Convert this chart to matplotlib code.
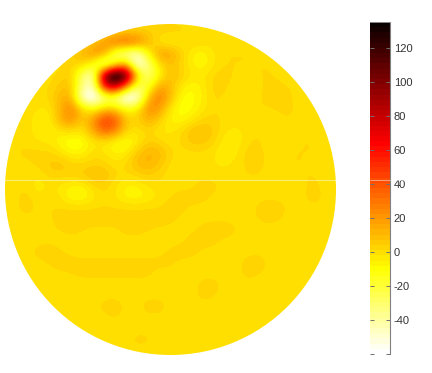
import matplotlib
import numpy as np
import matplotlib.pyplot as plt
from matplotlib.lines import Line2D
from matplotlib.patches import Circle

matplotlib.use('Agg')

# field, 11 px apart, columns left to right, rows top to bottom
field = [
    [0, 0, 0, 0, 0, 0, 0, 0, 0, 0, 0, 0, 0, 0, 0, 0, 0, 0, 0, 0, 0, 0, 0, 0, 0, 0, 0, 0, 0, 0, 0],
    [0, 0, 0, 0, 0, 0, 0, 0, 0, 0, 0, 3, 4, 4, 3, 3, 2, 0, 0, 0, 0, 0, 0, 0, 0, 0, 0, 0, 0, 0, 0],
    [0, 0, 0, 0, 0, 0, 0, 0, 6, 18, 34, 38, 30, 10, -3, -6, -3, 2, 0, 0, 0, 0, 0, 0, 0, 0, 0, 0, 0, 0, 0],
    [0, 0, 0, 0, 0, 2, 4, 10, 22, 20, -30, -45, -50, -8, 18, 16, 4, -6, -8, -2, 1, 1, 1, 0, 0, 0, 0, 0, 0, 0, 0],
    [0, 0, 0, 0, 0, 0, 2, 3, -12, -50, -15, 15, -60, -35, 0, 8, 2, -6, -8, -2, 1, 1, 1, 1, 1, 0, 0, 0, 0, 0, 0],
    [0, 0, 0, 0, 0, 1, 6, -30, -50, 100, 160, 125, 5, -35, -10, 10, 4, -2, -3, 2, 3, 0, -1, 1, 1, 1, 0, 0, 0, 0, 0],
    [0, 0, 0, 0, 0, 6, 8, -35, -50, 65, 85, 25, -30, -20, 18, 10, -4, -9, -4, 3, 2, -2, -1, 1, 1, 1, 1, 0, 0, 0, 0],
    [0, 0, 0, 0, 1, 10, 14, -50, -70, -40, -35, -70, -60, 10, 30, 10, -10, -10, -5, 2, 0, -2, 0, 1, 1, 2, 1, 0, 0, 0, 0],
    [0, 0, 0, -2, -3, 10, 28, 2, -12, 4, 2, -12, -5, 24, 20, -4, -12, -9, -3, 1, 0, -2, 0, 1, 1, 1, 1, 1, 0, 0, 0],
    [0, 0, 0, -5, -6, 12, 24, 4, 20, 48, 42, 6, 2, 14, 4, -7, -8, -4, 2, 2, 0, -1, 0, 0, 0, 1, 1, 0, 0, 0, 0],
    [0, 0, 0, -5, -6, -2, 0, -3, 16, 38, 28, 2, -2, 2, -3, -3, 0, 8, 9, 4, -2, -3, -1, 1, -2, -1, 1, 1, 0, 0, 0],
    [0, 0, 0, -2, -3, -8, -13, -12, -4, -3, -10, -12, -5, 4, 2, -2, 2, 6, 6, 2, -5, -5, 0, 2, -2, -2, 0, 1, 1, 0, 0],
    [0, 1, 2, 2, 2, -2, -8, -7, 0, -2, -6, -6, 6, 12, 10, 2, -1, 0, 0, -2, -6, -3, 3, 3, -1, -1, 1, 1, 1, 0, 0],
    [0, 0, 0, 2, 5, 7, 3, 1, 3, 2, -2, 2, 9, 12, 7, 0, -2, -1, -1, -2, -3, -1, 2, 2, 0, 0, 1, 1, 0, 0, 0],
    [0, 0, 0, -2, 3, 3, 3, 6, 9, 9, 2, 0, 3, 5, 2, -1, -2, -1, 0, -1, -1, 0, 1, 1, 0, 0, 0, 1, 1, 0, 0],
    [0, 0, 0, -5, -2, -3, -6, -7, 1, 3, -2, -6, -6, -2, 0, 0, 0, 0, 3, 2, 0, 0, 0, 0, 0, 0, 0, 0, 2, 0, 0],
    [0, 0, 3, -2, 1, -2, -9, -10, -4, 1, -2, -7, -8, -5, -2, 1, 2, 3, 2, 0, 0, 0, 0, 0, 0, 0, 0, 0, 3, 0, 0],
    [0, 0, 3, 0, 1, 1, 1, 1, 1, 1, 1, 1, 1, 1, 1, 3, 2, 0, 0, 0, 0, 0, 0, 1.5, 3, 2, 0, 0, 0, 0, 0],
    [0, 0, 0, 0, 0, 3, 3, 3, 3, 3, 3, 3, 3, 3, 3, 2, 0, 0, 0, 0, 0, 0, 0, 1, 2, 1, 0, 0, 0, 0, 0],
    [0, 0, 0, 0, 0, 1, 2, 1, 0, 0, 0, 2, 2, 1, 0, 0, 0, 0, 2, 3, 3, 1, 0, 0, 0, 0, 0, 0, 0, 0, 0],
    [0, 0, 0, 0, 0, 0, 0, 0, 0, 0, 0, 0, 0, 0, 0, 0, 0, 2.5, 3, 1.5, 0, 0, 0, 0, 0, 0, 0, 0, 0, 0, 0],
    [0, 0, 0, 2, 3, 1, 0, 0, 0, 0, 0, 0, 0, 0, 0, 1.5, 2.5, 2, 0, 0, 0, 0, 0, 0, 0, 0, 0, 0, 0, 0, 0],
    [0, 0, 0, 0, 1, 3, 2, 1.6, 1.6, 1.6, 1.6, 1.6, 1.6, 1.6, 1.8, 1.8, 0, 0, 0, 0, 0, 0, 2, 3, 0, 0, 0, 0, 0, 0, 0],
    [0, 0, 0, 0, 0, 0, 1, 1.6, 1.6, 1.6, 1.6, 1.6, 1.6, 1.6, 0, 0, 0, 0, 0, 0, 0, 0, 2, 1, 0, 0, 0, 0, 0, 0, 0],
    [0, 0, 0, 0, 0, 0, 0, 0, 0, 0, 0, 0, 0, 0, 0, 0, 0, 0, 2, 2, 0, 0, 0, 0, 0, 0, 0, 0, 0, 0, 0],
    [0, 0, 0, 0, 0, 1.5, 0, 0, 0, 0, 0, 0, 0, 0, 0, 0, 0, 0, 2, 1, 0, 0, 0, 0, 0, 0, 0, 0, 0, 0, 0],
    [0, 0, 0, 0, 0, 0, 1.5, 0, 0, 2, 3, 0, 0, 2.5, 2.5, 0, 0, 0, 0, 0, 0, 0, 0, 0, 0, 0, 0, 0, 0, 0, 0],
    [0, 0, 0, 0, 0, 0, 0, 0, 0, 0, 1, 0, 0, 0, 0, 0, 0, 0, 0, 0, 0, 0, 0, 0, 0, 0, 0, 0, 0, 0, 0],
    [0, 0, 0, 0, 0, 0, 0, 0, 0, 0, 0, 0, 0, 0, 0, 0, 0, 0, 0, 0, 0, 0, 0, 0, 0, 0, 0, 0, 0, 0, 0],
    [0, 0, 0, 0, 0, 0, 0, 0, 0, 0, 0, 0, 2, 1.5, 0, 0, 0, 0, 0, 0, 0, 0, 0, 0, 0, 0, 0, 0, 0, 0, 0],
    [0, 0, 0, 0, 0, 0, 0, 0, 0, 0, 0, 0, 0, 0, 0, 0, 0, 0, 0, 0, 0, 0, 0, 0, 0, 0, 0, 0, 0, 0, 0],
    [0, 0, 0, 0, 0, 0, 0, 0, 0, 0, 0, 0, 0, 0, 0, 0, 0, 0, 0, 0, 0, 0, 0, 0, 0, 0, 0, 0, 0, 0, 0],
]

tick_values = [-60, -40, -20, 0, 20, 40, 60, 80, 100, 120]
tick_labels = ['', '-40', '-20', '0', '20', '40', '60', '80', '100', '120']
vmin = -60
vmax = 135

W, H = 432, 373
plt.rcParams['font.family'] = ['Liberation Sans', 'DejaVu Sans']

fig = plt.figure(figsize=(W / 100, H / 100), dpi=100)

# axes in reference pixels, y down
ax = fig.add_axes([0, 0, 1, 1])
ax.set_xlim(0, W)
ax.set_ylim(H, 0)
ax.axis('off')

cmap = plt.get_cmap('hot_r', 64)
im = ax.imshow(
    np.array(field, dtype=float),
    extent=[5 - 5.5, 335 + 5.5, 362 + 5.5, 21 - 5.5],
    cmap=cmap,
    vmin=vmin,
    vmax=vmax,
    interpolation='bicubic',
    interpolation_stage='data',
    aspect='auto',
)
ax.set_xlim(0, W)
ax.set_ylim(H, 0)
im.set_clip_path(Circle((170.5, 189.5), 165.5, transform=ax.transData))

cax = fig.add_axes([370 / W, 1 - 354 / H, 19.5 / W, 332 / H])
cb = fig.colorbar(im, cax=cax)
cb.set_ticks(tick_values, labels=tick_labels)
cb.outline.set_visible(False)
cax.tick_params(axis='y', which='both', direction='in', left=True, right=True,
                length=3, width=0.7, color='#707070', labelcolor='#333333',
                labelsize=8, pad=3)
cax.minorticks_off()
cax.spines['right'].set_visible(True)
cax.spines['right'].set_color('#808080')
cax.spines['right'].set_linewidth(0.8)
cax.spines['top'].set_visible(True)
cax.spines['top'].set_color('#a0a0a0')
cax.spines['top'].set_linewidth(0.6)

# pale seam across disc and colorbar
fig.add_artist(Line2D([0, 1], [1 - 180 / H, 1 - 180 / H], color='white', alpha=0.45, lw=0.8, zorder=10))

plt.savefig('out.png', dpi=100)
plt.close()
